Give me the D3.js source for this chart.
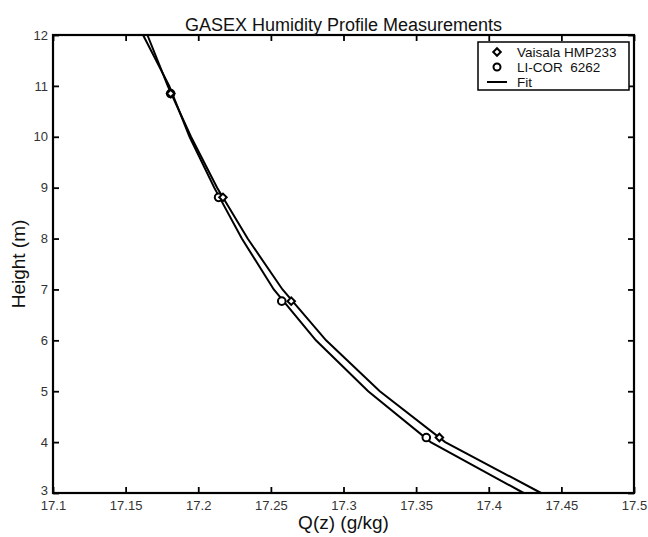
<!DOCTYPE html>
<html>
<head>
<meta charset="utf-8">
<script src="https://cdn.jsdelivr.net/npm/d3@7"></script>
<style>
  body { margin: 0; background: #fff; }
  text { font-family: "Liberation Sans", Arial, sans-serif; }
</style>
</head>
<body>
<script>
// measured heights (m) and humidity readings (g/kg)
const heights = [4.09, 6.77, 8.81, 10.85];
const vaisala = [17.366, 17.264, 17.217, 17.181];
const licor = [17.357, 17.2575, 17.214, 17.181];

// fit curves at whole metres
const fitHeights = [3, 4, 5, 6, 7, 8, 9, 10, 11, 12];
const vaisalaFit = [17.436, 17.370, 17.325, 17.288, 17.258, 17.234, 17.213, 17.195, 17.179, 17.165];
const licorFit = [17.424, 17.360, 17.317, 17.281, 17.252, 17.230, 17.211, 17.194, 17.180, 17.162];

const xTicks = [17.1, 17.15, 17.2, 17.25, 17.3, 17.35, 17.4, 17.45, 17.5];
const yTicks = [3, 4, 5, 6, 7, 8, 9, 10, 11, 12];
const legendLabels = ["Vaisala HMP233", "LI-COR  6262", "Fit"];

const width = 648;
const height = 537;
const margin = {top: 35, right: 14, bottom: 44, left: 53};
const w = width - margin.left - margin.right;
const h = height - margin.top - margin.bottom;

const svg = d3.select("body").append("svg")
  .attr("width", width)
  .attr("height", height);

const g = svg.append("g")
  .attr("transform", `translate(${margin.left}, ${margin.top})`);

const xscale = d3.scaleLinear().domain([17.1, 17.5]).range([0, w]);
const yscale = d3.scaleLinear().domain([3, 12]).range([h, 0]);

function styleAxis(sel) {
  sel.select(".domain").remove();
  sel.selectAll(".tick line").attr("stroke", "#000").attr("stroke-width", 1.8);
  sel.selectAll(".tick text")
    .attr("fill", "#333")
    .attr("font-size", "13px")
    .attr("font-family", "Liberation Sans, Arial, sans-serif");
}

g.append("g")
  .attr("transform", `translate(0, ${h})`)
  .call(d3.axisBottom(xscale).tickValues(xTicks).tickSize(-6).tickPadding(8)
    .tickFormat(d => d3.format("")(+d.toFixed(2))))
  .call(styleAxis);

g.append("g")
  .call(d3.axisTop(xscale).tickValues(xTicks).tickSize(-6).tickFormat(""))
  .call(styleAxis);

g.append("g")
  .call(d3.axisLeft(yscale).tickValues(yTicks).tickSize(-6).tickPadding(5))
  .call(styleAxis)
  .selectAll(".tick text")
  .attr("dy", d => d === 3 ? "0.1em" : "0.32em");

g.append("g")
  .attr("transform", `translate(${w}, 0)`)
  .call(d3.axisRight(yscale).tickValues(yTicks).tickSize(-6).tickFormat(""))
  .call(styleAxis);

// frame
g.append("rect")
  .attr("width", w)
  .attr("height", h)
  .attr("fill", "none")
  .attr("stroke", "#000")
  .attr("stroke-width", 2.2);

const line = d3.line()
  .x(d => xscale(d[0]))
  .y(d => yscale(d[1]));

[vaisalaFit, licorFit].forEach(fit => {
  g.append("path")
    .datum(fit.map((q, i) => [q, fitHeights[i]]))
    .attr("fill", "none")
    .attr("stroke", "#000")
    .attr("stroke-width", 2)
    .attr("d", line);
});

const diamond = d3.symbol(d3.symbolSquare, 28);

g.selectAll(".licor")
  .data(licor)
  .enter()
  .append("circle")
  .attr("class", "licor")
  .attr("cx", d => xscale(d))
  .attr("cy", (d, i) => yscale(heights[i]))
  .attr("r", 3.8)
  .attr("fill", "#fff")
  .attr("stroke", "#000")
  .attr("stroke-width", 2);

g.selectAll(".vaisala")
  .data(vaisala)
  .enter()
  .append("path")
  .attr("class", "vaisala")
  .attr("d", diamond)
  .attr("transform", (d, i) => `translate(${xscale(d)}, ${yscale(heights[i])}) rotate(45)`)
  .attr("fill", "#fff")
  .attr("stroke", "#000")
  .attr("stroke-width", 2);

// legend
const legend = svg.append("g").attr("transform", "translate(478, 42)");
legend.append("rect")
  .attr("width", 151)
  .attr("height", 48)
  .attr("fill", "#fff")
  .attr("stroke", "#000")
  .attr("stroke-width", 1.5);

legend.append("path")
  .attr("d", diamond)
  .attr("transform", "translate(19, 10) rotate(45)")
  .attr("fill", "#fff")
  .attr("stroke", "#000")
  .attr("stroke-width", 2);
legend.append("circle")
  .attr("cx", 19).attr("cy", 25).attr("r", 3.5)
  .attr("fill", "#fff").attr("stroke", "#000").attr("stroke-width", 2);
legend.append("line")
  .attr("x1", 9).attr("x2", 29).attr("y1", 40).attr("y2", 40)
  .attr("stroke", "#000").attr("stroke-width", 2);

legend.selectAll(".lab")
  .data(legendLabels)
  .enter()
  .append("text")
  .attr("class", "lab")
  .attr("x", 39)
  .attr("y", (d, i) => 14.5 + i * 15)
  .attr("font-size", "13.5px")
  .attr("fill", "#111")
  .style("white-space", "pre")
  .text(d => d);

svg.append("text")
  .attr("x", margin.left + w / 2)
  .attr("y", 31)
  .attr("text-anchor", "middle")
  .attr("font-size", "18px")
  .attr("fill", "#111")
  .text("GASEX Humidity Profile Measurements");

svg.append("text")
  .attr("x", margin.left + w / 2)
  .attr("y", 529)
  .attr("text-anchor", "middle")
  .attr("font-size", "19px")
  .attr("fill", "#111")
  .text("Q(z) (g/kg)");

svg.append("text")
  .attr("transform", `translate(25, ${margin.top + h / 2}) rotate(-90)`)
  .attr("text-anchor", "middle")
  .attr("font-size", "19px")
  .attr("fill", "#111")
  .text("Height (m)");
</script>
</body>
</html>
